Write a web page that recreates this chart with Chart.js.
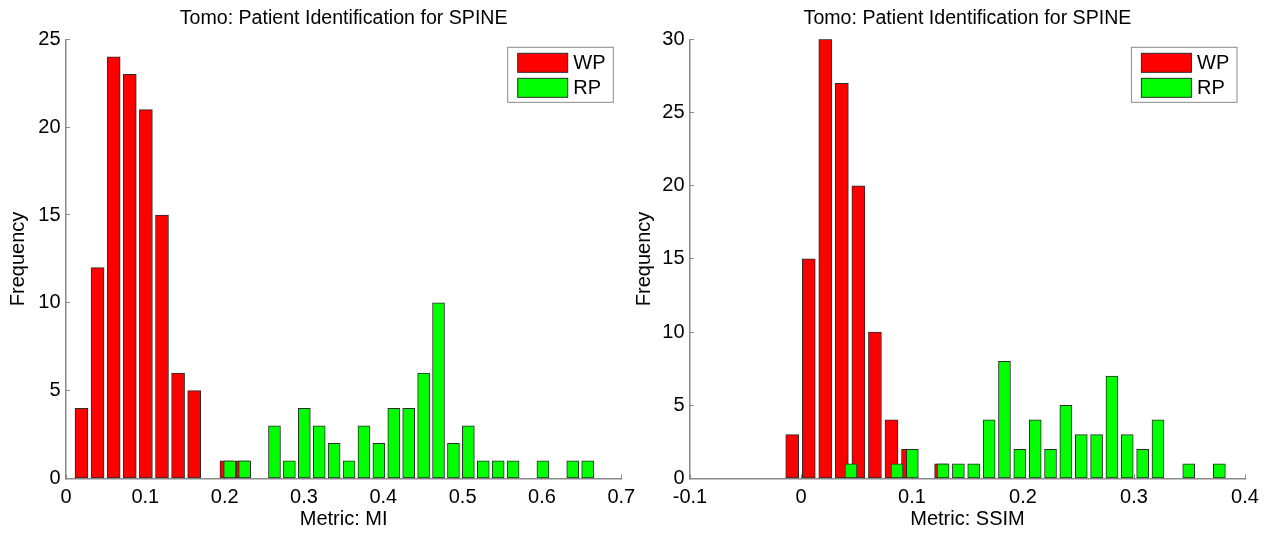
<!DOCTYPE html>
<html>
<head>
<meta charset="utf-8">
<title>Tomo: Patient Identification for SPINE</title>
<script src="https://cdn.jsdelivr.net/npm/chart.js@4.4.1/dist/chart.umd.min.js"></script>
<style>
  html, body { margin: 0; padding: 0; background: #fff; }
  #wrap { position: relative; width: 1270px; height: 533px; overflow: hidden; }
  .panel { position: absolute; top: 0; height: 533px; }
  #miPanel { left: 0; width: 635px; }
  #ssimPanel { left: 626px; width: 644px; }
</style>
</head>
<body>
<div id="wrap">
  <div class="panel" id="miPanel"><canvas id="miChart" width="635" height="533"></canvas></div>
  <div class="panel" id="ssimPanel"><canvas id="ssimChart" width="644" height="533"></canvas></div>
</div>
<script>
// histogram data: bin centres + counts, wrong patient (WP) vs right patient (RP)
const chartTitle = 'Tomo: Patient Identification for SPINE';
const seriesLabels = ['WP', 'RP'];

// MI
const miWpCenters = [0.0195, 0.0398, 0.0601, 0.0804, 0.1007, 0.1210, 0.1413, 0.1616, 0.1819, 0.2022, 0.2225];
const miWpCounts  = [4, 12, 24, 23, 21, 15, 6, 5, 0, 1, 1];
const miRpCenters = [0.2064, 0.2252, 0.2440, 0.2628, 0.2816, 0.3004, 0.3192, 0.3380, 0.3568, 0.3756,
                     0.3944, 0.4132, 0.4320, 0.4508, 0.4696, 0.4884, 0.5072, 0.5260, 0.5448, 0.5636,
                     0.5824, 0.6012, 0.6200, 0.6388, 0.6576];
const miRpCounts  = [1, 1, 0, 3, 1, 4, 3, 2, 1, 3, 2, 4, 4, 6, 10, 2, 3, 1, 1, 1, 0, 1, 0, 1, 1];
const miXTicks = [0, 0.1, 0.2, 0.3, 0.4, 0.5, 0.6, 0.7];
const miYTicks = [0, 5, 10, 15, 20, 25];

// SSIM
const ssimWpCenters = [-0.0079, 0.0070, 0.0219, 0.0368, 0.0517, 0.0666, 0.0815, 0.0964, 0.1113, 0.1262];
const ssimWpCounts  = [3, 15, 30, 27, 20, 10, 4, 2, 0, 1];
const ssimRpCenters = [0.0450, 0.0588, 0.0727, 0.0865, 0.1003, 0.1142, 0.1280, 0.1418, 0.1556, 0.1695,
                       0.1833, 0.1971, 0.2110, 0.2248, 0.2386, 0.2525, 0.2663, 0.2801, 0.2939, 0.3078,
                       0.3216, 0.3354, 0.3493, 0.3631, 0.3769];
const ssimRpCounts  = [1, 0, 0, 1, 2, 0, 1, 1, 1, 4, 8, 2, 4, 2, 5, 3, 3, 7, 3, 2, 4, 0, 1, 0, 1];
const ssimXTicks = [-0.1, 0, 0.1, 0.2, 0.3, 0.4];
const ssimYTicks = [0, 5, 10, 15, 20, 25, 30];

const AXIS_GREY = '#8a8a8a';
const EDGE = '#2b2b2b';
const FONT = '"Liberation Sans", Arial, Helvetica, sans-serif';

Chart.defaults.font.family = FONT;
Chart.defaults.color = '#000';

// matlab-style legend box in the top right corner of the axes
const insetLegend = {
  id: 'insetLegend',
  afterDatasetsDraw(chart, args, opts) {
    const { ctx, chartArea } = chart;
    const boxW = 105.6, boxH = 55;
    const x0 = chartArea.right - opts.inset - boxW;
    const y0 = chartArea.top + opts.inset;
    ctx.save();
    ctx.fillStyle = '#fff';
    ctx.fillRect(x0, y0, boxW, boxH);
    ctx.strokeStyle = AXIS_GREY;
    ctx.lineWidth = 1;
    ctx.strokeRect(x0, y0, boxW, boxH);
    ctx.font = '20px ' + FONT;
    ctx.textBaseline = 'middle';
    chart.data.datasets.forEach((ds, i) => {
      const py = y0 + 6 + i * 25;
      ctx.fillStyle = ds.backgroundColor;
      ctx.fillRect(x0 + 10, py, 50, 19);
      ctx.strokeStyle = ds.borderColor;
      ctx.strokeRect(x0 + 10, py, 50, 19);
      ctx.fillStyle = '#000';
      ctx.fillText(ds.label, x0 + 65.6, py + 10);
    });
    ctx.restore();
  }
};

function toPoints(centers, counts) {
  return centers.map((x, i) => ({ x: x, y: counts[i] }));
}

function fmtTick(v) {
  return String(Number(v.toFixed(2)));
}

function makeHistogram(canvasId, cfg) {
  const ctx = document.getElementById(canvasId).getContext('2d');
  return new Chart(ctx, {
    type: 'bar',
    data: {
      datasets: [
        {
          label: seriesLabels[0],
          data: toPoints(cfg.wpCenters, cfg.wpCounts),
          backgroundColor: '#ff0000',
          borderColor: EDGE,
          borderWidth: 1,
          borderSkipped: false,
          barThickness: cfg.wpBar,
          grouped: false,
          order: 1
        },
        {
          label: seriesLabels[1],
          data: toPoints(cfg.rpCenters, cfg.rpCounts),
          backgroundColor: '#00ff00',
          borderColor: EDGE,
          borderWidth: 1,
          borderSkipped: false,
          barThickness: cfg.rpBar,
          grouped: false,
          order: 0
        }
      ]
    },
    options: {
      responsive: false,
      animation: false,
      layout: { autoPadding: false, padding: { left: 0, right: cfg.padRight, top: 0, bottom: 0 } },
      plugins: {
        legend: { display: false },
        tooltip: { enabled: false },
        title: {
          display: true,
          text: chartTitle,
          fullSize: false,
          color: '#000',
          font: { size: 19.6, weight: 'normal' },
          padding: { top: 6.8, bottom: 9 }
        },
        insetLegend: { inset: 8 }
      },
      scales: {
        x: {
          type: 'linear',
          min: cfg.xTicks[0],
          max: cfg.xTicks[cfg.xTicks.length - 1],
          offset: false,
          afterBuildTicks: s => { s.ticks = cfg.xTicks.map(v => ({ value: v })); },
          // fixed axis band; end labels may hang past the plot edge
          afterFit: s => { s.height = 54.5; s.paddingLeft = 0; s.paddingRight = 0; },
          grid: { drawOnChartArea: false, offset: false, tickLength: -4, color: AXIS_GREY, lineWidth: 1 },
          border: { color: AXIS_GREY, width: 1.5 },
          ticks: { autoSkip: false, maxRotation: 0, padding: 10.5, color: '#000', font: { size: 20 }, callback: fmtTick },
          title: { display: true, text: cfg.xTitle, color: '#000', font: { size: 20 }, padding: { top: 0, bottom: 1.5 } }
        },
        y: {
          min: 0,
          max: cfg.yTicks[cfg.yTicks.length - 1],
          afterBuildTicks: s => { s.ticks = cfg.yTicks.map(v => ({ value: v })); },
          afterFit: s => { s.width = cfg.yWidth; },
          grid: { drawOnChartArea: false, tickLength: -4, color: AXIS_GREY, lineWidth: 1 },
          border: { color: AXIS_GREY, width: 1.5 },
          ticks: { padding: 9.5, color: '#000', font: { size: 20 }, callback: fmtTick },
          title: { display: true, text: 'Frequency', color: '#000', font: { size: 20 }, padding: { top: 6.3, bottom: 0 } }
        }
      }
    },
    plugins: [insetLegend]
  });
}

makeHistogram('miChart', {
  wpCenters: miWpCenters, wpCounts: miWpCounts,
  rpCenters: miRpCenters, rpCounts: miRpCounts,
  xTicks: miXTicks, yTicks: miYTicks,
  xTitle: 'Metric: MI',
  wpBar: 13, rpBar: 12,
  yWidth: 66, padRight: 13.7
});

makeHistogram('ssimChart', {
  wpCenters: ssimWpCenters, wpCounts: ssimWpCounts,
  rpCenters: ssimRpCenters, rpCounts: ssimRpCounts,
  xTicks: ssimXTicks, yTicks: ssimYTicks,
  xTitle: 'Metric: SSIM',
  wpBar: 13, rpBar: 12,
  yWidth: 64, padRight: 25
});
</script>
</body>
</html>
